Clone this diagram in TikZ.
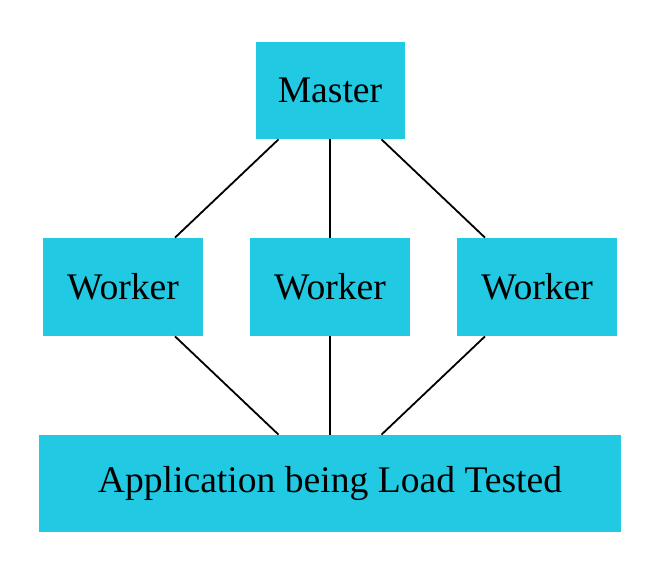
\documentclass[tikz,border=0pt]{standalone}
\usepackage{fontspec}
\setmainfont{Liberation Serif}
\definecolor{boxcyan}{HTML}{22C9E3}
\begin{document}
\begin{tikzpicture}[x=0.5pt,y=-0.5pt,
  box/.style={fill=boxcyan,draw=none,inner sep=0pt,font=\fontsize{18.8}{22}\selectfont},
  link/.style={draw=black,line width=0.9pt}]
\useasboundingbox (0,0) rectangle (648,568);
\node[box,minimum width=74.5pt,minimum height=48.5pt] (m) at (330,90.5) {Master};
\node[box,minimum width=80pt,minimum height=49pt] (w1) at (123,287) {Worker};
\node[box,minimum width=80pt,minimum height=49pt] (w2) at (330,287) {Worker};
\node[box,minimum width=80pt,minimum height=49pt] (w3) at (537,287) {Worker};
\node[box,minimum width=291pt,minimum height=48.5pt] (app) at (330,483.5) {Application being Load Tested};
\draw[link] (m) -- (w1);
\draw[link] (m) -- (w2);
\draw[link] (m) -- (w3);
\draw[link] (w1) -- (app);
\draw[link] (w2) -- (app);
\draw[link] (w3) -- (app);
\end{tikzpicture}
\end{document}
